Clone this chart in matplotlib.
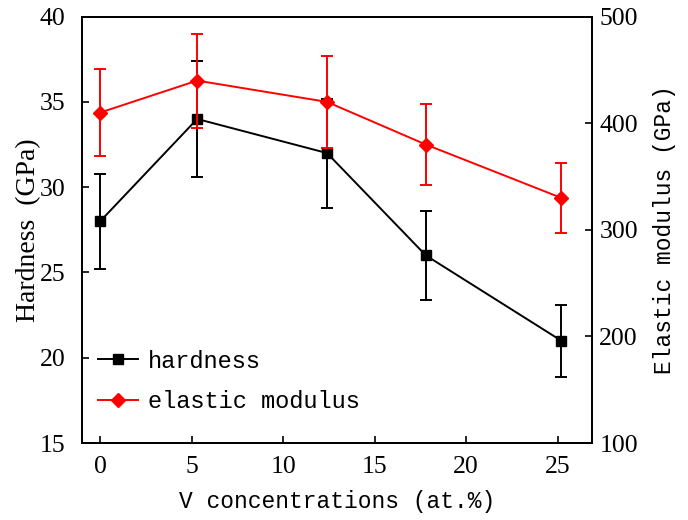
import matplotlib.pyplot as plt

# V concentration (at.%)
v_conc = [0, 5.3, 12.4, 17.8, 25.2]

# hardness (GPa) and its error
hardness = [28.0, 34.0, 32.0, 26.0, 21.0]
hardness_err = [2.8, 3.4, 3.2, 2.6, 2.1]

# elastic modulus (GPa) and its error
modulus = [410, 440, 420, 380, 330]
modulus_err = [41, 44, 43, 38, 33]

mono_font = {'family': 'Liberation Mono', 'size': 16.5}
serif_font = {'family': 'Liberation Serif', 'size': 20}
tick_font = 'Liberation Serif'

fig, ax1 = plt.subplots(figsize=(6.88, 5.2), dpi=100)
fig.subplots_adjust(left=0.119, right=0.861, top=0.968, bottom=0.148)

# hardness on the left axis
h = ax1.errorbar(v_conc, hardness, yerr=hardness_err, color='black',
                 marker='s', markersize=7, linewidth=1.4, capsize=4,
                 elinewidth=1.4, capthick=1.4, label='hardness')
ax1.set_xlim(-1, 26.9)
ax1.set_ylim(15, 40)
ax1.set_xticks([0, 5, 10, 15, 20, 25])
ax1.set_yticks([15, 20, 25, 30, 35, 40])
ax1.set_xlabel('V concentrations (at.%)', fontdict=mono_font, labelpad=9)
ax1.set_ylabel('Hardness  (GPa)', fontdict=serif_font, labelpad=-1)

# elastic modulus on the right axis
ax2 = ax1.twinx()
e = ax2.errorbar(v_conc, modulus, yerr=modulus_err, color='red',
                 marker='D', markersize=7.5, linewidth=1.4, capsize=4,
                 elinewidth=1.4, capthick=1.4, label='elastic modulus')
ax2.set_ylim(100, 500)
ax2.set_yticks([100, 200, 300, 400, 500])
ax2.set_ylabel('Elastic modulus (GPa)', fontdict=mono_font, labelpad=11)

for ax in (ax1, ax2):
    ax.tick_params(direction='in', length=5, width=1.2, labelsize=18.5)
    for lbl in ax.get_xticklabels() + ax.get_yticklabels():
        lbl.set_fontfamily(tick_font)
    for sp in ax.spines.values():
        sp.set_linewidth(1.3)
ax1.tick_params(axis='x', pad=9)
ax1.tick_params(axis='y', pad=12)
ax2.tick_params(axis='y', pad=5)

# legend: line + marker only, no error bars
handles = [h[0], e[0]]
ax1.legend(handles, ['hardness', 'elastic modulus'], loc='lower left',
           bbox_to_anchor=(-0.01, 0.02), frameon=False, handlelength=1.7,
           handletextpad=0.4, labelspacing=0.75,
           prop={'family': 'Liberation Mono', 'size': 17})

plt.savefig('out.png', dpi=100)
